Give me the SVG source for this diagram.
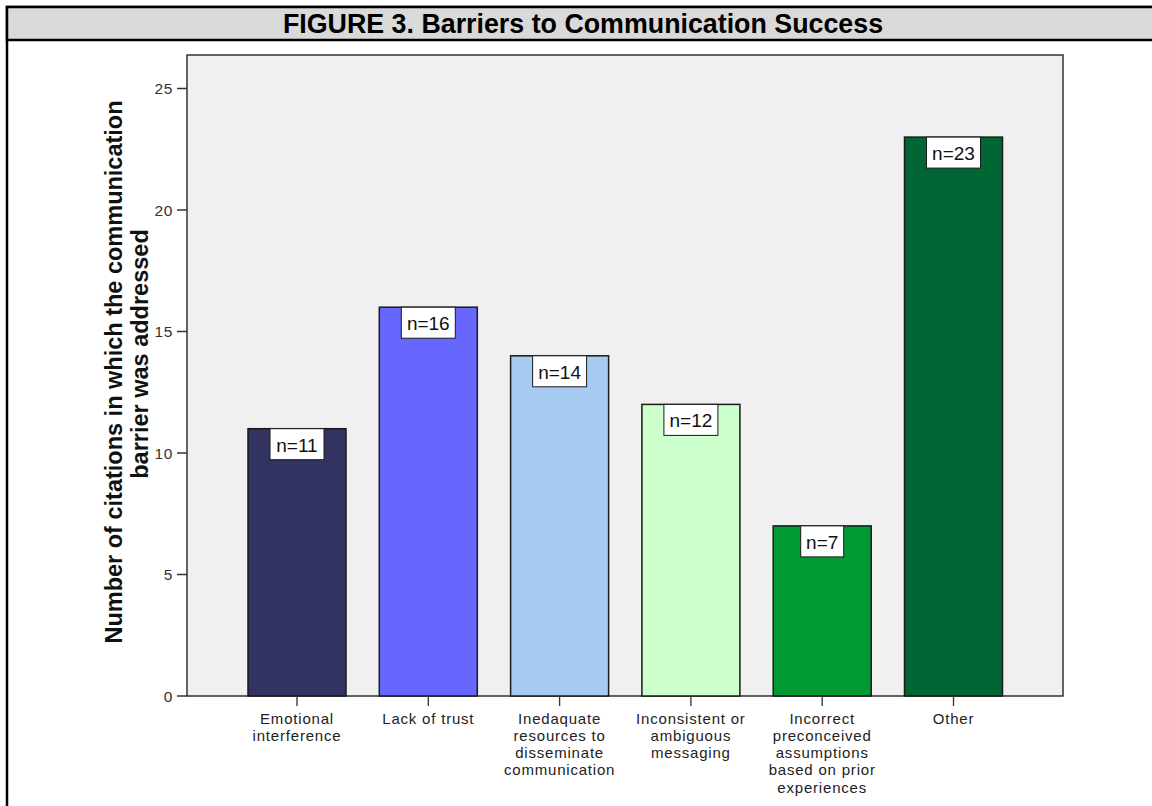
<svg xmlns="http://www.w3.org/2000/svg" width="1152" height="806" viewBox="0 0 1152 806">
<style>
.tick{stroke:#333;stroke-width:1.3;fill:none}
.ylab{font-family:"Liberation Sans",Arial,sans-serif;font-size:15.5px;fill:#333;text-anchor:end;letter-spacing:0.6px}
.xlab{font-family:"Liberation Sans",Arial,sans-serif;font-size:15px;fill:#222;text-anchor:middle;letter-spacing:0.8px}
.bar{stroke:#1a1a1a;stroke-width:1.5}
.nbox{fill:#ffffff;stroke:#1a1a1a;stroke-width:1}
.ntxt{font-family:"Liberation Sans",Arial,sans-serif;font-size:19px;fill:#111;text-anchor:middle}
.axt{font-family:"Liberation Sans",Arial,sans-serif;font-size:23.5px;font-weight:bold;fill:#111;text-anchor:middle}
</style>
<rect x="0" y="0" width="1152" height="806" fill="#ffffff"/>
<g id="frame">
<rect x="7" y="7" width="1160" height="820" fill="#ffffff" stroke="#000" stroke-width="2.5"/>
<rect x="7" y="7" width="1160" height="33" fill="#d9d9d9" stroke="#000" stroke-width="2.5"/>
<text x="583" y="33" font-family="'Liberation Sans',Arial,sans-serif" font-size="26.8" font-weight="bold" fill="#000" text-anchor="middle">FIGURE 3. Barriers to Communication Success</text>
</g>
<g id="plot">
<rect x="187" y="55" width="876" height="641" fill="#f0f0f0" stroke="#333" stroke-width="1.5"/>
</g>
<g id="yaxis">
<path class="tick" d="M177 696H187M177 574.5H187M177 453H187M177 331.5H187M177 210H187M177 88.5H187"/>
<text class="ylab" x="173" y="701.5">0</text>
<text class="ylab" x="173" y="580">5</text>
<text class="ylab" x="173" y="458.5">10</text>
<text class="ylab" x="173" y="337">15</text>
<text class="ylab" x="173" y="215.5">20</text>
<text class="ylab" x="173" y="94">25</text>
<text class="axt" transform="translate(122,372) rotate(-90)">Number of citations in which the communication</text>
<text class="axt" transform="translate(148,354) rotate(-90)">barrier was addressed</text>
</g>
<g id="bar-emotional">
<rect class="bar" x="248" y="428.7" width="98" height="267.3" fill="#333362"/>
<rect class="nbox" x="270" y="428.7" width="54" height="31"/>
<text class="ntxt" x="297" y="451.5">n=11</text>
</g>
<g id="bar-trust">
<rect class="bar" x="379.3" y="307.2" width="98" height="388.8" fill="#6767fe"/>
<rect class="nbox" x="401.3" y="307.2" width="54" height="31"/>
<text class="ntxt" x="428.3" y="330">n=16</text>
</g>
<g id="bar-resources">
<rect class="bar" x="510.6" y="355.8" width="98" height="340.2" fill="#a6caf0"/>
<rect class="nbox" x="532.6" y="355.8" width="54" height="31"/>
<text class="ntxt" x="559.6" y="378.6">n=14</text>
</g>
<g id="bar-inconsistent">
<rect class="bar" x="641.9" y="404.4" width="98" height="291.6" fill="#ccffcc"/>
<rect class="nbox" x="663.9" y="404.4" width="54" height="31"/>
<text class="ntxt" x="690.9" y="427.2">n=12</text>
</g>
<g id="bar-incorrect">
<rect class="bar" x="773.2" y="525.9" width="98" height="170.1" fill="#029a35"/>
<rect class="nbox" x="800.7" y="525.9" width="43" height="31"/>
<text class="ntxt" x="822.2" y="548.7">n=7</text>
</g>
<g id="bar-other">
<rect class="bar" x="904.5" y="137.1" width="98" height="558.9" fill="#006633"/>
<rect class="nbox" x="926.5" y="137.1" width="54" height="31"/>
<text class="ntxt" x="953.5" y="159.9">n=23</text>
</g>
<g id="xaxis">
<path class="tick" d="M297 696V706M428.3 696V706M559.6 696V706M690.9 696V706M822.2 696V706M953.5 696V706"/>
<text class="xlab" x="297" y="723.5">Emotional<tspan x="297" dy="17.3">interference</tspan></text>
<text class="xlab" x="428.3" y="723.5">Lack of trust</text>
<text class="xlab" x="559.6" y="723.5">Inedaquate<tspan x="559.6" dy="17.3">resources to</tspan><tspan x="559.6" dy="17.3">disseminate</tspan><tspan x="559.6" dy="17.3">communication</tspan></text>
<text class="xlab" x="690.9" y="723.5">Inconsistent or<tspan x="690.9" dy="17.3">ambiguous</tspan><tspan x="690.9" dy="17.3">messaging</tspan></text>
<text class="xlab" x="822.2" y="723.5">Incorrect<tspan x="822.2" dy="17.3">preconceived</tspan><tspan x="822.2" dy="17.3">assumptions</tspan><tspan x="822.2" dy="17.3">based on prior</tspan><tspan x="822.2" dy="17.3">experiences</tspan></text>
<text class="xlab" x="953.5" y="723.5">Other</text>
</g>
</svg>
